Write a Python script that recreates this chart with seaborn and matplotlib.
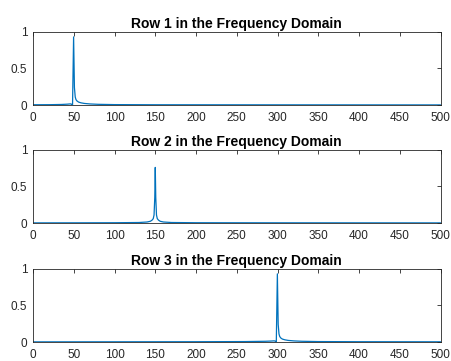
import matplotlib
matplotlib.use("Agg")
import matplotlib.pyplot as plt
import seaborn as sns
import pandas as pd

# Single-sided amplitude spectra of three signal rows (frequency in Hz)
row1_freq = [0, 20, 35, 42, 46, 47.5, 48.5, 49.8, 50.8, 51.8, 52.7, 54, 56, 59, 63, 70, 80, 100, 150, 300, 500]
row1_amp = [0.004, 0.005, 0.008, 0.012, 0.016, 0.01, 0.0, 0.93, 0.24, 0.11, 0.075, 0.055, 0.04, 0.03, 0.022, 0.015, 0.01, 0.006, 0.004, 0.003, 0.002]

row2_freq = [0, 60, 100, 130, 140, 144, 146, 147.5, 148.5, 149.4, 150, 150.6, 151.5, 152.5, 154, 156, 160, 170, 200, 300, 500]
row2_amp = [0.003, 0.004, 0.005, 0.008, 0.015, 0.025, 0.04, 0.06, 0.11, 0.35, 0.76, 0.35, 0.11, 0.06, 0.04, 0.025, 0.015, 0.008, 0.005, 0.004, 0.003]

row3_freq = [0, 100, 200, 260, 285, 292, 296, 297.5, 298.5, 299.8, 300.8, 301.8, 302.7, 304, 306, 309, 313, 320, 330, 350, 400, 500]
row3_amp = [0.002, 0.003, 0.004, 0.006, 0.01, 0.013, 0.016, 0.01, 0.0, 0.93, 0.24, 0.11, 0.075, 0.055, 0.04, 0.03, 0.022, 0.015, 0.01, 0.006, 0.004, 0.003]

titles = ["Row 1 in the Frequency Domain",
          "Row 2 in the Frequency Domain",
          "Row 3 in the Frequency Domain"]
x_ticks = [0, 50, 100, 150, 200, 250, 300, 350, 400, 450, 500]
y_ticks = [0, 0.5, 1]
y_labels = ["0", "0.5", "1"]

sns.set_style("white")
plt.rcParams["font.family"] = ["Liberation Sans", "DejaVu Sans"]

line_color = "#0072BD"
axis_color = "#262626"

fig = plt.figure(figsize=(4.51, 3.61), dpi=100)
bottoms = [0.709, 0.382, 0.0526]
rows = [(row1_freq, row1_amp), (row2_freq, row2_amp), (row3_freq, row3_amp)]

for bottom, (freq, amp), title in zip(bottoms, rows, titles):
    ax = fig.add_axes([0.0732, bottom, 0.9036, 0.203])
    df = pd.DataFrame({"Frequency": freq, "Amplitude": amp})
    sns.lineplot(data=df, x="Frequency", y="Amplitude", ax=ax,
                 color=line_color, linewidth=0.9)
    ax.set_xlim(0, 500)
    ax.set_ylim(0, 1)
    ax.set_xticks(x_ticks)
    ax.set_xticklabels([str(t) for t in x_ticks])
    ax.set_yticks(y_ticks)
    ax.set_yticklabels(y_labels)
    ax.set_xlabel("")
    ax.set_ylabel("")
    ax.tick_params(direction="in", length=3, width=0.6, color=axis_color,
                   labelsize=8.5, labelcolor=axis_color,
                   top=True, right=True)
    ax.tick_params(axis="x", pad=5)
    ax.tick_params(axis="y", pad=4)
    for side in ["left", "right", "top", "bottom"]:
        ax.spines[side].set_visible(True)
        ax.spines[side].set_color(axis_color)
        ax.spines[side].set_linewidth(0.6)
    ax.set_title(title, fontsize=10, fontweight="bold", color="black", pad=2.5)

fig.savefig("out.png", dpi=100, facecolor="white")
